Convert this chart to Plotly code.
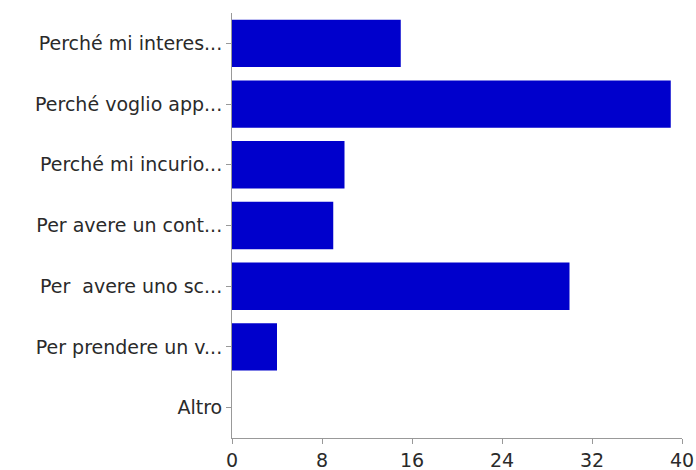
import plotly.graph_objects as go

categories = [
    "Perché mi interes...",
    "Perché voglio app...",
    "Perché mi incurio...",
    "Per avere un cont...",
    "Per  avere uno sc...",
    "Per prendere un v...",
    "Altro",
]
values = [15, 39, 10, 9, 30, 4, 0]
x_ticks = [0, 8, 16, 24, 32, 40]

fig = go.Figure(
    go.Bar(
        x=values,
        y=categories,
        orientation="h",
        marker=dict(color="#0000cc", line=dict(width=0)),
    )
)

fig.update_layout(
    width=696,
    height=470,
    margin=dict(l=232, r=14, t=13, b=32),
    paper_bgcolor="white",
    plot_bgcolor="white",
    bargap=0.22,
    showlegend=False,
    font=dict(family="DejaVu Sans, sans-serif", size=19, color="#2a2a2a"),
)

fig.update_xaxes(
    range=[0, 40],
    tickvals=x_ticks,
    showgrid=False,
    zeroline=False,
    showline=True,
    linecolor="#999999",
    linewidth=1,
    ticks="outside",
    ticklen=5,
    tickcolor="#999999",
    tickfont=dict(size=19),
    automargin=False,
)
fig.update_yaxes(
    categoryorder="array",
    categoryarray=categories[::-1],
    showgrid=False,
    zeroline=False,
    showline=True,
    linecolor="#999999",
    linewidth=1,
    ticks="outside",
    ticklen=5,
    tickcolor="#999999",
    tickfont=dict(size=19),
    automargin=False,
)

fig.write_html("out.html")
